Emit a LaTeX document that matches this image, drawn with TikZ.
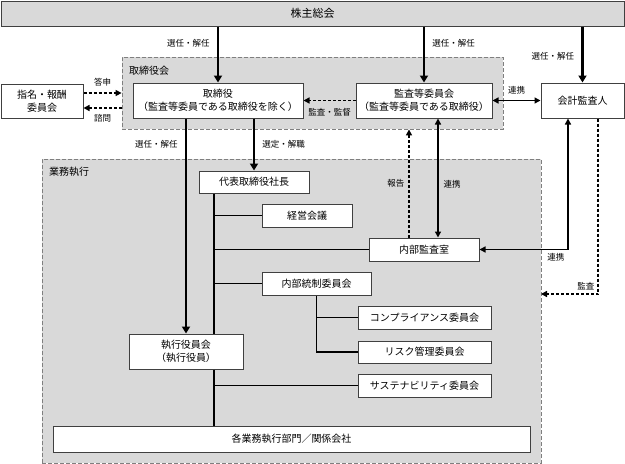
\documentclass[tikz,border=0pt]{standalone}
\usepackage{fontspec}
\setmainfont{Noto Sans CJK JP}
\usepackage{xcolor}
\usepackage{tikz}
\usetikzlibrary{arrows.meta}

\definecolor{panelgray}{HTML}{D9D9D9}
\definecolor{zonegray}{HTML}{7F7F7F}
\definecolor{linegray}{HTML}{404040}

\begin{document}
\begin{tikzpicture}[x=1pt, y=-1pt,
    box/.style={draw=linegray, fill=white, line width=1pt, inner sep=0pt, align=center, font=\fontsize{10}{13}\selectfont},
    zone/.style={draw=zonegray, fill=panelgray, line width=0.8pt, dash pattern=on 4pt off 2pt, inner sep=0pt},
    zonelbl/.style={font=\fontsize{10}{12}\selectfont, inner sep=0pt, anchor=west},
    lbl/.style={font=\fontsize{8.5}{10}\selectfont, inner sep=1pt},
    mainarrow/.style={line width=2.6pt, -{Triangle[length=7pt,width=8pt]}},
    treeline/.style={line width=1.4pt},
    linkarrow/.style={line width=1.4pt, {Triangle[length=6pt,width=6pt]}-{Triangle[length=6pt,width=6pt]}},
    dasharrow/.style={line width=1.4pt, dash pattern=on 3pt off 2pt, -{Triangle[length=6pt,width=6pt]}},
  ]
        \useasboundingbox (0,0) rectangle (625,464);

        % Dashed zones
        \node[zone, minimum width=381, minimum height=72] (boardzone) at (312.5,93) {};
        \node[zonelbl] (boardlbl) at (129,71) {取締役会};
        \node[zone, minimum width=499, minimum height=304] (execzone) at (291.5,311) {};
        \node[zonelbl] (execlbl) at (49,172) {業務執行};

        % Top row
        \node[box, fill=panelgray, font=\fontsize{11}{13}\selectfont, minimum width=623, minimum height=25] (share) at (312.5,13.5) {株主総会};
        \node[box, minimum width=82, minimum height=34] (nom) at (42,101) {指名・報酬\\委員会};
        \node[box, minimum width=170, minimum height=35] (tori) at (218,100.5) {取締役\\（監査等委員である取締役を除く）};
        \node[box, minimum width=136, minimum height=35] (kansa) at (424,100.5) {監査等委員会\\（監査等委員である取締役）};
        \node[box, minimum width=83, minimum height=35] (kaikei) at (582.5,100.5) {会計監査人};

        % Execution boxes
        \node[box, minimum width=110, minimum height=22] (daihyo) at (254,182) {代表取締役社長};
        \node[box, minimum width=90, minimum height=23] (keiei) at (307,215.5) {経営会議};
        \node[box, minimum width=110, minimum height=23] (naibu) at (424,249.5) {内部監査室};
        \node[box, minimum width=109, minimum height=23] (tosei) at (316.5,283.5) {内部統制委員会};
        \node[box, minimum width=133, minimum height=23] (comp) at (424.5,317.5) {コンプライアンス委員会};
        \node[box, minimum width=133, minimum height=22] (risk) at (424.5,352) {リスク管理委員会};
        \node[box, minimum width=133, minimum height=23] (sust) at (424.5,385.5) {サステナビリティ委員会};
        \node[box, minimum width=114, minimum height=35] (exec) at (186,351.5) {執行役員会\\（執行役員）};
        \node[box, minimum width=477, minimum height=26] (kakubu) at (291.5,439) {各業務執行部門／関係会社};

        % Shareholders
        \draw[mainarrow] (share.south -| tori.north) -- (tori.north) node[lbl, pos=0.3, left=6pt] {選任・解任};
        \draw[mainarrow] (share.south -| kansa.north) -- (kansa.north) node[lbl, pos=0.3, right=6pt] {選任・解任};
        \draw[mainarrow] (share.south -| kaikei.north) -- (kaikei.north) node[lbl, pos=0.53, left=6pt] {選任・解任};

        % Nomination committee
        \draw[dasharrow] ([yshift=8pt]nom.east) -- ([yshift=8pt]nom.east -| boardzone.west) node[lbl, midway, above=5pt] {答申};
        \draw[dasharrow] ([yshift=-7pt]nom.east -| boardzone.west) -- ([yshift=-7pt]nom.east) node[lbl, midway, below=5pt] {諮問};

        % Audit committee
        \draw[dasharrow] (kansa.west) -- (tori.east) node[lbl, midway, below=6pt] {監査・監督};
        \draw[linkarrow] (kansa.east) -- (kaikei.west) node[lbl, midway, above=5pt] {連携};

        % Board to execution
        \draw[mainarrow] (tori.south -| exec.north) -- (exec.north) node[lbl, pos=0.12, left=6pt] {選任・解任};
        \draw[mainarrow] (tori.south -| daihyo.north) -- (daihyo.north) node[lbl, midway, right=6pt] {選定・解職};

        % Internal audit
        \coordinate (kx) at (568,0);
        \coordinate (ax) at (598,0);
        \coordinate (auditpt) at (541,294);
        \draw[linkarrow] ([xshift=14pt]kansa.south) -- ([xshift=14pt]naibu.north) node[lbl, pos=0.55, right=4pt] {連携};
        \draw[dasharrow] ([xshift=-15pt]naibu.north) -- ([xshift=-15pt]naibu.north |- boardzone.south) node[lbl, midway, left=3pt] {報告};
        \draw[linkarrow] (kaikei.south -| kx) |- (naibu.east) node[lbl, pos=0.5, below left=2pt] {連携};
        \draw[dasharrow] (kaikei.south -| ax) |- (auditpt) node[lbl, pos=0.5, above left=2pt] {監査};

        % Trunk and branches
        \coordinate (trunk) at (214,0);
        \draw[treeline] (daihyo.south -| trunk) -- (exec.north -| trunk);
        \draw[treeline] (exec.south -| trunk) -- (kakubu.north -| trunk);
        \foreach \n in {keiei, naibu, tosei, sust}
            \draw[treeline] (trunk |- \n.west) -- (\n.west);
        \draw[treeline] (tosei.south) -- (tosei.south |- risk.west) -- (risk.west);
        \draw[treeline] (tosei.south |- comp.west) -- (comp.west);

\end{tikzpicture}
\end{document}
